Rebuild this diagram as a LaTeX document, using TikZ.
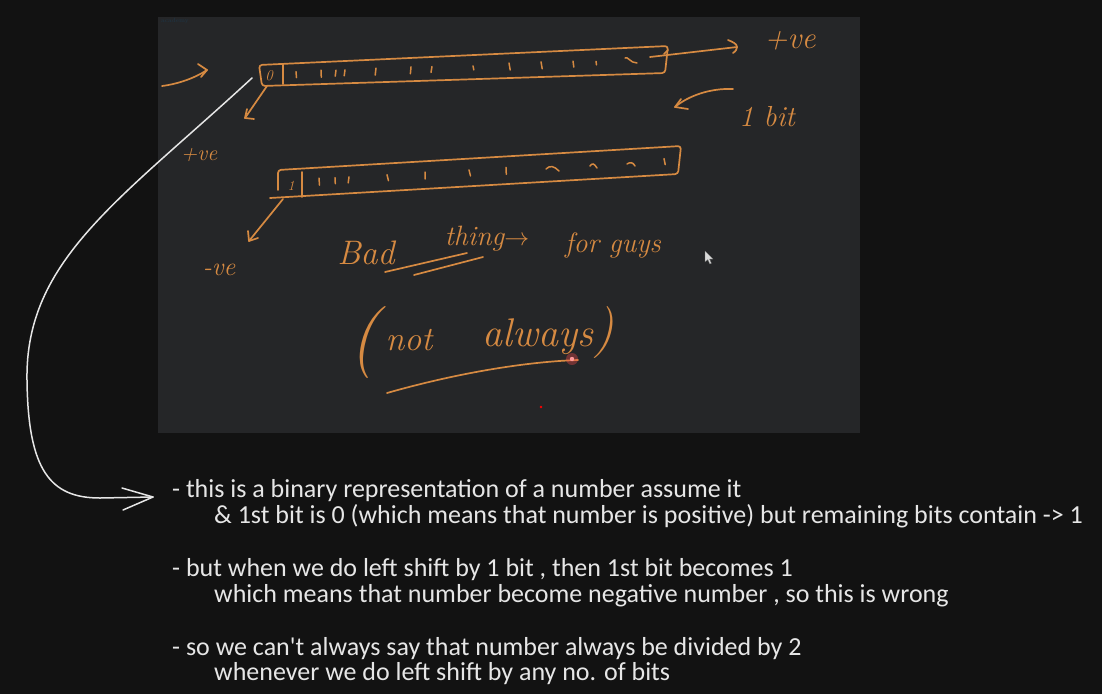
\documentclass[tikz,border=0pt]{standalone}
\usepackage{fontspec}
\newfontfamily\notefont{Carlito}
\definecolor{bg}{HTML}{121212}
\definecolor{panel}{HTML}{252628}
\definecolor{ink}{HTML}{D68A42}
\definecolor{chalk}{HTML}{E6E6E6}
\definecolor{wmark}{HTML}{1E3546}
\tikzset{
  inkline/.style={draw=ink, line width=1.7pt, line cap=round, line join=round},
  bitmark/.style={draw=ink, line width=1.5pt, line cap=round},
  handtext/.style={text=ink, inner sep=0pt, font=\itshape},
  notetext/.style={text=chalk, inner sep=0pt, anchor=base west, font=\notefont\fontsize{26}{30}\selectfont},
  chalkline/.style={draw=chalk, line width=1.5pt, line cap=round, line join=round},
}
\begin{document}
\begin{tikzpicture}[x=1pt,y=-1pt]
\path[use as bounding box, fill=bg] (0,0) rectangle (1102,694);
% embedded board
\fill[panel] (158,17) rectangle (860,433);
\node[text=wmark, inner sep=0pt, anchor=west, font=\fontsize{6}{7}\selectfont] (wm) at (161,21) {academy};

% ---- top register ----
\draw[inkline, rounded corners=3] (259,65) -- (668,46) -- (665,73) -- (262,86) -- cycle;
\draw[inkline] (283,64) -- (283,84);
\node[handtext, font=\itshape\fontsize{15}{15}\selectfont] (zero) at (269,76) {0};
\foreach \x/\y/\d/\h in {296/74.7/0.5/3, 321/73.7/0.3/3.5, 336/73.2/-0.8/3, 345/72.8/-0.8/3, 376/71.6/-0.8/3.5, 411/70.3/-0.6/3.5, 432/69.5/-1/3, 473/67.9/0.8/2, 509/66.5/1.2/3.5, 541/65.3/1.2/3.5, 573/64.1/0.8/3, 596/63.1/0.5/1.8}
  \draw[bitmark] ({\x},{\y-\h}) -- ({\x+\d},{\y+\h});
\draw[bitmark] (625,58) .. controls (628,56) and (630,63) .. (637,63);

% arrow in from the left
\coordinate (inA) at (162,86);
\coordinate (inB) at (207,70);
\draw[inkline] (inA) .. controls (178,84) and (195,78) .. (inB);
\draw[inkline] (198,64) -- (inB) -- (201,77);

% arrow from first bit (0) to +ve
\coordinate (zeroFoot) at (267,86);
\coordinate (posTip) at (245,118);
\draw[inkline] (zeroFoot) -- (posTip);
\draw[inkline] (247,109) -- (posTip) -- (254,119);
\node[handtext, font=\itshape\fontsize{22}{22}\selectfont] (posB) at (199,155) {+ve};

% arrow out to the right (+ve)
\coordinate (outA) at (650,57);
\coordinate (outB) at (737,47);
\draw[inkline] (outA) -- (outB);
\draw[inkline] (664,54) -- (668,50);
\draw[inkline] (728,40) .. controls (733,42) and (737,44) .. (outB) .. controls (737,49) and (736,51) .. (733,53);
\node[handtext, font=\itshape\fontsize{31}{31}\selectfont] (posA) at (790,41) {+ve};

% shift arrow and "1 bit"
\coordinate (shA) at (733,89);
\coordinate (shB) at (675,107);
\draw[inkline] (shA) .. controls (710,88) and (688,96) .. (shB);
\draw[inkline] (681,99) -- (shB) -- (688,109);
\node[handtext, font=\itshape\fontsize{29}{29}\selectfont] (onebit) at (767,117) {1 bit};

% ---- shifted register ----
\draw[inkline, rounded corners=3] (278,190) -- (278,170) -- (681,146) -- (678,174) -- (270,198);
\draw[inkline] (302,172) -- (302,197);
\node[handtext, font=\itshape\fontsize{14}{14}\selectfont] (one) at (291,186) {1};
\foreach \x/\y/\d/\h in {319/181.6/0.5/3.5, 335/180.7/0.3/3, 349/179.9/-0.8/3, 387/177.7/1.5/3, 425/175.5/0.2/3.5, 469/172.9/1.5/3, 506/170.8/0.3/3.5, 664/161.6/1.2/3}
  \draw[bitmark] ({\x},{\y-\h}) -- ({\x+\d},{\y+\h});
\draw[bitmark] (546,169) .. controls (550,165) and (554,166) .. (559,171);
\draw[bitmark] (590,166) .. controls (592,163) and (594,163) .. (597,168);
\draw[bitmark] (627,164) .. controls (630,162) and (633,162) .. (635,166);

% arrow from first bit (1) to -ve
\coordinate (oneFoot) at (283,199);
\coordinate (negTip) at (249,241);
\draw[inkline] (oneFoot) -- (negTip);
\draw[inkline] (248,231) -- (negTip) -- (258,238);
\node[handtext, font=\itshape\fontsize{26}{26}\selectfont] (neg) at (219,270) {-ve};

% ---- remarks ----
\node[handtext, font=\itshape\fontsize{34}{34}\selectfont] (bad) at (366,253) {Bad};
\node[handtext, font=\itshape\fontsize{28}{28}\selectfont] (thing) at (487,239) {thing$\rightarrow$};
\node[handtext, font=\itshape\fontsize{28}{28}\selectfont] (guys) at (613,245) {for guys};
\draw[inkline] (385,272) -- (467,253);
\draw[inkline] (414,275) -- (483,257);

\node[handtext, font=\itshape\fontsize{72}{72}\selectfont] (lp) at (364,343) {(};
\node[handtext, font=\itshape\fontsize{34}{34}\selectfont] (not) at (409,340) {not};
\node[handtext, font=\itshape\fontsize{40}{40}\selectfont] (always) at (538,337) {always};
\node[handtext, font=\itshape\fontsize{52}{52}\selectfont] (rp) at (604,333) {)};
\coordinate (ulA) at (387,393);
\coordinate (ulB) at (578,360);
\draw[inkline] (ulA) .. controls (450,375) and (520,362) .. (ulB);
\fill[red!70!white, opacity=0.35] (572,359) circle (6);
\fill[red!40!white] (572,359) circle (2.2);
\fill[red] (541,407) circle (1.3);

% mouse pointer
\filldraw[fill=white!85!black, draw=black!60, line width=0.3pt] (705,251) -- (705,262) -- (707.8,259.6) -- (709.8,264) -- (711.4,263.3) -- (709.5,259) -- (713,259) -- cycle;

% ---- curved pointer to notes ----
\coordinate (cStart) at (252,78);
\coordinate (cTip) at (153,497);
\draw[chalkline] (cStart) .. controls (120,200) and (25,260) .. (27,380) .. controls (28,470) and (50,498) .. (100,498) -- (cTip);
\draw[chalkline] (122,488) -- (cTip) -- (123,510);

% ---- notes ----
\node[notetext] (l1) at (172,497) {- this is a binary representation of a number assume it};
\node[notetext] (l2) at (214,523) {\& 1st bit is 0 (which means that number is positive) but remaining bits contain -> 1};
\node[notetext] (l3) at (172,576) {- but when we do left shift by 1 bit , then 1st bit becomes 1};
\node[notetext] (l4) at (214,602) {which means that number become negative number , so this is wrong};
\node[notetext] (l5) at (172,655) {- so we can't always say that number always be divided by 2};
\node[notetext] (l6) at (214,680) {whenever we do left shift by any no. of bits};
\end{tikzpicture}
\end{document}
